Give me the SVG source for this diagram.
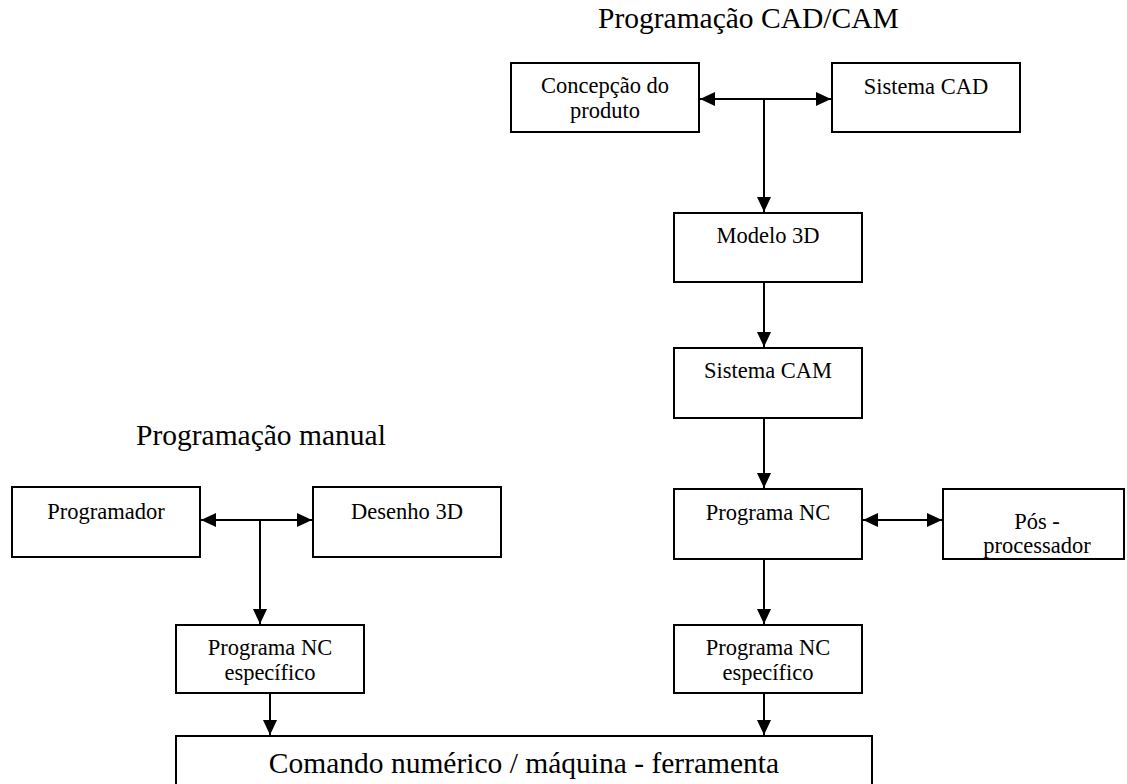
<svg xmlns="http://www.w3.org/2000/svg" width="1127" height="784" viewBox="0 0 1127 784">
<style>
.box{fill:#fff;stroke:#000;stroke-width:2}
.t{font-family:"Liberation Serif","Times New Roman",serif;font-size:22.5px;fill:#000;text-anchor:middle}
.title{font-family:"Liberation Serif","Times New Roman",serif;font-size:29.5px;fill:#000}
.c{fill:none;stroke:#000;stroke-width:2}
</style>
<defs>
<marker id="ah" markerUnits="userSpaceOnUse" markerWidth="15" markerHeight="14" refX="15" refY="7" orient="auto-start-reverse" viewBox="0 0 15 14">
<path d="M0,0 L15,7 L0,14 z" fill="#000"/>
</marker>
</defs>
<rect width="1127" height="784" fill="#fff"/>
<text class="title" x="598" y="28">Programação CAD/CAM</text>
<text class="title" x="136" y="445">Programação manual</text>
<g id="connectors">
<line class="c" x1="700" y1="99" x2="831" y2="99" marker-start="url(#ah)" marker-end="url(#ah)"/>
<line class="c" x1="764" y1="99" x2="764" y2="212" marker-end="url(#ah)"/>
<line class="c" x1="764" y1="282" x2="764" y2="347" marker-end="url(#ah)"/>
<line class="c" x1="764" y1="418" x2="764" y2="488" marker-end="url(#ah)"/>
<line class="c" x1="863" y1="520" x2="942" y2="520" marker-start="url(#ah)" marker-end="url(#ah)"/>
<line class="c" x1="764" y1="559" x2="764" y2="624" marker-end="url(#ah)"/>
<line class="c" x1="764" y1="693" x2="764" y2="735" marker-end="url(#ah)"/>
<line class="c" x1="201" y1="520" x2="312" y2="520" marker-start="url(#ah)" marker-end="url(#ah)"/>
<line class="c" x1="260" y1="520" x2="260" y2="624" marker-end="url(#ah)"/>
<line class="c" x1="270" y1="693" x2="270" y2="735" marker-end="url(#ah)"/>
</g>
<g id="concepcao">
<rect class="box" x="511" y="63" width="188" height="69"/>
<text class="t" x="605" y="93">Concepção do</text>
<text class="t" x="605" y="118">produto</text>
</g>
<g id="sistema-cad">
<rect class="box" x="832" y="63" width="188" height="69"/>
<text class="t" x="926" y="94">Sistema CAD</text>
</g>
<g id="modelo-3d">
<rect class="box" x="674" y="213" width="188" height="69"/>
<text class="t" x="768" y="243">Modelo 3D</text>
</g>
<g id="sistema-cam">
<rect class="box" x="674" y="348" width="188" height="70"/>
<text class="t" x="768" y="378">Sistema CAM</text>
</g>
<g id="programa-nc">
<rect class="box" x="674" y="489" width="188" height="70"/>
<text class="t" x="768" y="520">Programa NC</text>
</g>
<g id="pos-processador">
<rect class="box" x="943" y="489" width="181" height="70"/>
<text class="t" x="1037" y="529">Pós -</text>
<text class="t" x="1037" y="553">processador</text>
</g>
<g id="nc-especifico-cam">
<rect class="box" x="674" y="625" width="188" height="68"/>
<text class="t" x="768" y="655">Programa NC</text>
<text class="t" x="768" y="680">específico</text>
</g>
<g id="programador">
<rect class="box" x="12" y="487" width="188" height="70"/>
<text class="t" x="106" y="519">Programador</text>
</g>
<g id="desenho-3d">
<rect class="box" x="313" y="487" width="188" height="70"/>
<text class="t" x="407" y="519">Desenho 3D</text>
</g>
<g id="nc-especifico-manual">
<rect class="box" x="176" y="625" width="188" height="68"/>
<text class="t" x="270" y="655">Programa NC</text>
<text class="t" x="270" y="680">específico</text>
</g>
<g id="comando-numerico">
<rect class="box" x="176" y="736" width="696" height="60"/>
<text class="title" x="524" y="773" text-anchor="middle">Comando numérico / máquina - ferramenta</text>
</g>
</svg>
